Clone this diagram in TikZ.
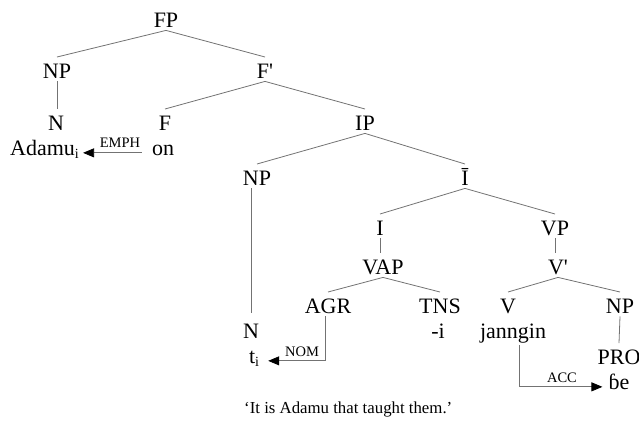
\documentclass[tikz,border=0pt]{standalone}
\usepackage{fontspec}
\newfontfamily\tf{Liberation Serif}
\usetikzlibrary{arrows.meta}
\definecolor{lc}{gray}{0.45}
\newcommand\sbi{\raisebox{-3pt}{\fontsize{14}{14}\selectfont i}}
\begin{document}
\begin{tikzpicture}[x=1pt,y=-1pt,
  tn/.style={anchor=base, inner xsep=1pt, inner ysep=2pt, text height=18.8pt, text depth=1.2pt, font=\tf\fontsize{22}{26}\selectfont},
  leaf/.style={anchor=base, inner sep=0pt, font=\tf\fontsize{22}{26}\selectfont},
  case/.style={anchor=base, inner sep=0pt, font=\tf\fontsize{14.5}{16}\selectfont},
  br/.style={draw=lc, line width=0.8pt},
  arr/.style={br, -{Triangle[length=11pt,width=9pt,color=black]}}
]
\useasboundingbox (0,0) rectangle (639,424);
% tree nodes
\node[tn] (FP) at (166,27) {FP};
\node[tn] (NPa) at (57,78) {NP};
\node[tn] (Fbar) at (265,78) {F'};
\node[tn] (Na) at (56,130) {N};
\node[tn] (F) at (165,130) {F};
\node[tn] (IP) at (365,130) {IP};
\node[tn] (NPb) at (257,185) {NP};
\node[tn] (Ibar) at (465,185) {Ī};
\node[tn] (I) at (380,235) {I};
\node[tn] (VP) at (555,235) {VP};
\node[tn] (VAP) at (383,274) {VAP};
\node[tn] (Vbar) at (558,274) {V'};
\node[tn] (AGR) at (328,313) {AGR};
\node[tn] (TNS) at (440,313) {TNS};
\node[tn] (V) at (508,313) {V};
\node[tn] (NPc) at (620,313) {NP};
\node[tn] (Nb) at (251,338) {N};
\node[tn] (PRO) at (619,364) {PRO};
% leaves
\node[leaf, anchor=base west] (adamu) at (10,155) {Adamu\sbi};
\node[leaf] (on) at (163,155) {on};
\node[leaf] (ti) at (254,363) {t\sbi};
\node[leaf] (mi) at (438,338) {-i};
\node[leaf] (jan) at (513,338) {janngin};
\node[leaf] (be) at (619,389) {ɓe};
\node[leaf, anchor=base west, font=\tf\fontsize{16.8}{20}\selectfont] (tr) at (244,413) {‘It is Adamu that taught them.’};
% case labels
\node[case] (emph) at (120,147) {EMPH};
\node[case] (nom) at (302,356) {NOM};
\node[case] (acc) at (562,382) {ACC};
% branches
\draw[br] (FP.south) -- (NPa.north);
\draw[br] (FP.south) -- (Fbar.north);
\draw[br] (NPa.south) -- (NPa.south |- Na.north);
\draw[br] (Fbar.south) -- (F.north);
\draw[br] (Fbar.south) -- (IP.north);
\draw[br] (IP.south) -- (NPb.north);
\draw[br] (IP.south) -- (Ibar.north);
\draw[br] (Nb.north |- NPb.south) -- ([yshift=4pt]Nb.north);
\draw[br] (Ibar.south) -- (I.north);
\draw[br] (Ibar.south) -- (VP.north);
\draw[br] (I.south) -- (I.south |- VAP.north);
\draw[br] (VP.south) -- (VP.south |- Vbar.north);
\draw[br] (VAP.south) -- (AGR.north);
\draw[br] (VAP.south) -- (TNS.north);
\draw[br] (Vbar.south) -- (V.north);
\draw[br] (Vbar.south) -- (NPc.north);
\draw[br] (NPc.south) -- (PRO.north);
% case arrows
\draw[arr] ([xshift=-10pt]on.mid west) -- ([xshift=4pt]adamu.mid east);
\draw[arr] ([xshift=-3pt]AGR.south) |- ([xshift=9pt]ti.mid east);
\draw[arr] ([xshift=6pt,yshift=-7pt]jan.base) |- ([xshift=-6pt]be.mid west);
\end{tikzpicture}
\end{document}
